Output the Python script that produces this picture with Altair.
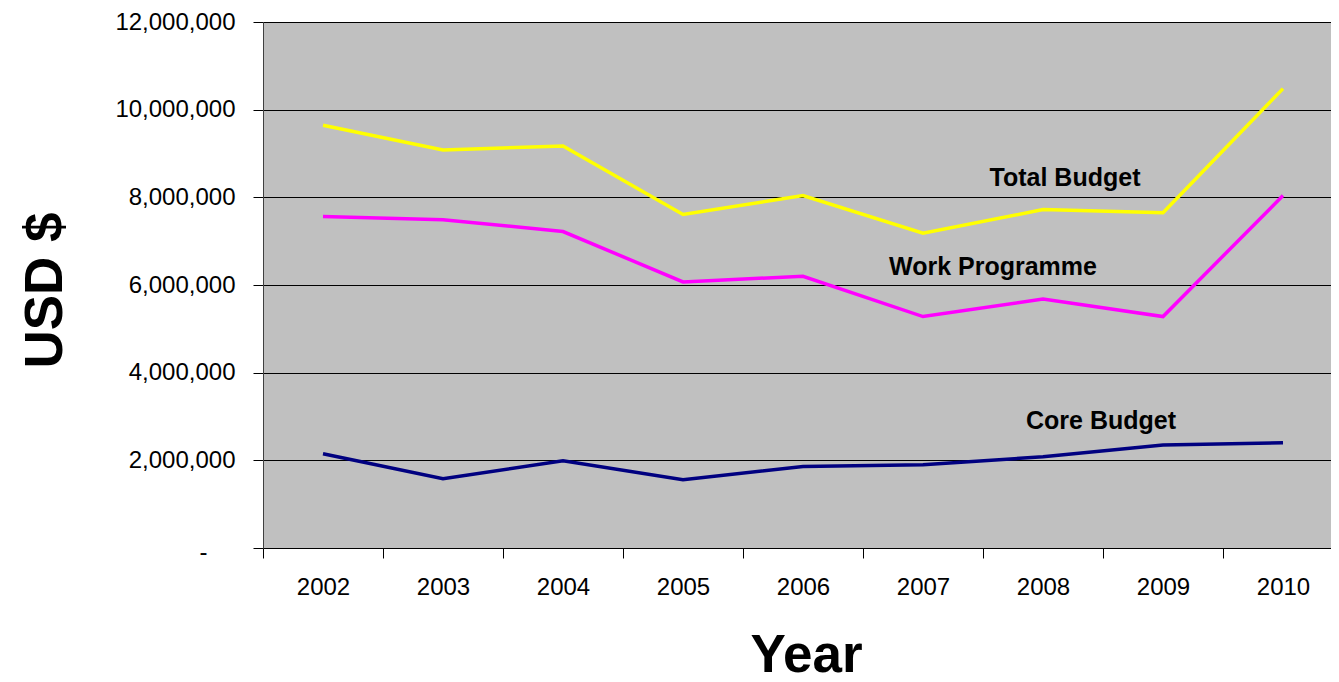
import altair as alt
import pandas as pd

years = ["2002", "2003", "2004", "2005", "2006", "2007", "2008", "2009", "2010"]
total_budget = [9645000, 9080000, 9170000, 7610000, 8040000, 7180000, 7720000, 7650000, 10480000]
work_programme = [7560000, 7490000, 7220000, 6070000, 6200000, 5280000, 5680000, 5280000, 8040000]
core_budget = [2150000, 1580000, 1990000, 1560000, 1860000, 1900000, 2080000, 2350000, 2400000]

series_names = ["Total Budget", "Work Programme", "Core Budget"]
series_colors = ["#FFFF00", "#FF00FF", "#000080"]

label_years = ["2008", "2008", "2008"]
label_values = [8445000, 6408000, 2898000]
y_ticks = [0, 2000000, 4000000, 6000000, 8000000, 10000000, 12000000]

rows = []
for name, vals in zip(series_names, [total_budget, work_programme, core_budget]):
    for y, v in zip(years, vals):
        rows.append({"Year": y, "value": v, "series": name})
df = pd.DataFrame(rows)

FONT = "Liberation Sans"

x_enc = alt.X(
    "Year:N",
    sort=years,
    scale=alt.Scale(type="band", paddingInner=0, paddingOuter=0, domain=years),
    axis=alt.Axis(
        title="Year",
        titleFont=FONT,
        titleFontSize=53,
        titleFontWeight="bold",
        titleColor="black",
        titleX=543,
        titleY=107,
        titleBaseline="middle",
        titleAlign="center",
        labelFont=FONT,
        labelFontSize=24,
        labelColor="black",
        labelPadding=17,
        labelAngle=0,
        tickBand="extent",
        tickSize=10,
        tickColor="black",
        domainColor="black",
        grid=False,
    ),
)

y_enc = alt.Y(
    "value:Q",
    scale=alt.Scale(domain=[0, 12000000], nice=False, zero=True),
    axis=alt.Axis(
        title="USD $",
        titleFont=FONT,
        titleFontSize=53,
        titleFontWeight="bold",
        titleColor="black",
        titleX=-218,
        titleY=268,
        titleBaseline="middle",
        titleAlign="center",
        titleAngle=-90,
        values=y_ticks,
        labelExpr="datum.value == 0 ? '-' : format(datum.value, ',')",
        labelFont=FONT,
        labelFontSize=24,
        labelColor="black",
        labelPadding={"condition": {"test": "datum.value === 0", "value": 46}, "value": 18},
        labelOffset={"condition": {"test": "datum.value === 0", "value": 4}, "value": 0},
        tickSize=10,
        tickColor="black",
        domainColor="#404040",
        gridColor="black",
        gridWidth=1,
        grid=True,
    ),
)

lines = alt.Chart(df).mark_line(strokeWidth=3.5).encode(
    x=x_enc,
    y=y_enc,
    color=alt.Color(
        "series:N",
        scale=alt.Scale(domain=series_names, range=series_colors),
        legend=None,
    ),
    detail="series:N",
)

layers = [lines]
dxs = [22, -50, 58]
for name, yr, val, dx in zip(series_names, label_years, label_values, dxs):
    ldf = pd.DataFrame({"Year": [yr], "value": [val], "label": [name]})
    t = alt.Chart(ldf).mark_text(
        font=FONT, fontSize=25, fontWeight="bold", color="black",
        align="center", baseline="middle", dx=dx,
    ).encode(
        x=alt.X("Year:N", sort=years),
        y=alt.Y("value:Q"),
        text="label:N",
    )
    layers.append(t)

chart = alt.layer(*layers).properties(
    width=1080,
    height=526,
    autosize=alt.AutoSizeParams(type="none"),
    padding={"left": 255, "top": 14, "right": -12, "bottom": 142},
    background="white",
).configure_view(
    fill="#C0C0C0",
    stroke=None,
)

chart.save("out.html", embed_options={"renderer": "svg", "actions": False})
